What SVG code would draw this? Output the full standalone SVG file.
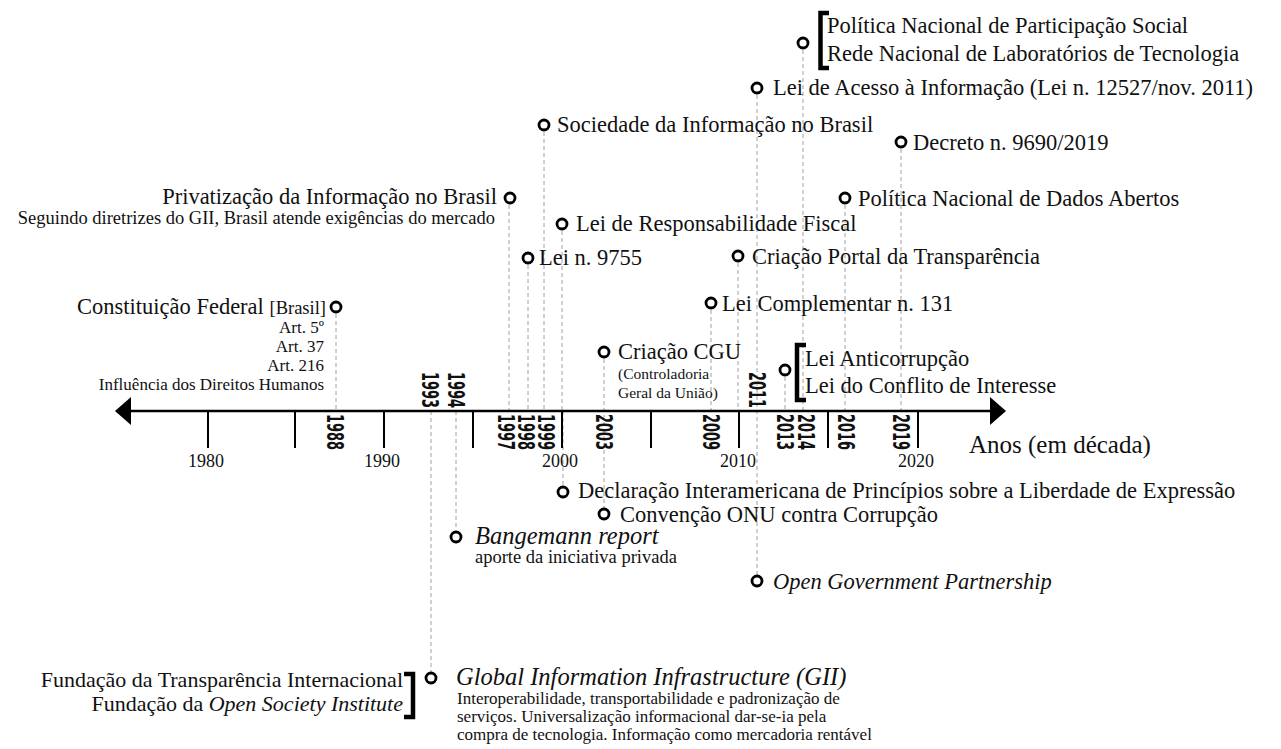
<svg xmlns="http://www.w3.org/2000/svg" width="1281" height="749" viewBox="0 0 1281 749">
  <style>
    .t { font-family: "Liberation Serif", "Times New Roman", serif; font-size: 22.5px; fill: #111; }
    .it { font-style: italic; }
    .m { font-size: 18.5px; }
    .s { font-size: 17px; }
    .xs { font-size: 15.5px; }
    .r { text-anchor: end; }
    .c { text-anchor: middle; }
    .yr { font-family: "Liberation Sans Narrow", "DejaVu Sans Condensed", "Liberation Sans", sans-serif; font-weight: bold; font-size: 23px; font-stretch: condensed; fill: #111; }
    .dot { fill: #fff; stroke: #000; stroke-width: 2.8; }
    .br { fill: none; stroke: #000; stroke-width: 4.5; }
    .lead { stroke: #a0a0a0; stroke-width: 1; stroke-dasharray: 4 3; fill: none; }
    .axis { stroke: #000; stroke-width: 2.5; fill: none; }
    .tick { stroke: #000; stroke-width: 2; }
  </style>

  <!-- dashed leaders from each event to the axis -->
  <g id="connectors">
    <line class="lead" x1="336" y1="307" x2="336" y2="411"/>
    <line class="lead" x1="431" y1="411" x2="431" y2="678"/>
    <line class="lead" x1="456" y1="411" x2="456" y2="537"/>
    <line class="lead" x1="509" y1="198" x2="509" y2="411"/>
    <line class="lead" x1="528" y1="258" x2="528" y2="411"/>
    <line class="lead" x1="544" y1="125" x2="544" y2="411"/>
    <line class="lead" x1="562" y1="224" x2="562" y2="411"/>
    <line class="lead" x1="563" y1="411" x2="563" y2="492"/>
    <line class="lead" x1="604" y1="352" x2="604" y2="514"/>
    <line class="lead" x1="711" y1="303" x2="711" y2="411"/>
    <line class="lead" x1="738" y1="256" x2="738" y2="411"/>
    <line class="lead" x1="757" y1="88" x2="757" y2="581"/>
    <line class="lead" x1="785" y1="370" x2="785" y2="411"/>
    <line class="lead" x1="803" y1="43" x2="803" y2="411"/>
    <line class="lead" x1="845" y1="198" x2="845" y2="411"/>
    <line class="lead" x1="901" y1="142" x2="901" y2="411"/>
  </g>

  <!-- time axis -->
  <g id="axis">
    <line class="axis" x1="128" y1="411" x2="992" y2="411"/>
    <polygon points="115,411 131,397 131,425" fill="#000"/>
    <polygon points="1006,411 990,397 990,425" fill="#000"/>
    <g class="tick">
      <line x1="208" y1="411" x2="208" y2="448"/>
      <line x1="295" y1="411" x2="295" y2="448"/>
      <line x1="384" y1="411" x2="384" y2="448"/>
      <line x1="473" y1="411" x2="473" y2="448"/>
      <line x1="562" y1="411" x2="562" y2="448"/>
      <line x1="651" y1="411" x2="651" y2="448"/>
      <line x1="739" y1="411" x2="739" y2="448"/>
      <line x1="828" y1="411" x2="828" y2="448"/>
      <line x1="918" y1="411" x2="918" y2="448"/>
    </g>
    <g class="t c" style="font-size:18px">
      <text x="206" y="467">1980</text>
      <text x="382" y="467">1990</text>
      <text x="560" y="467">2000</text>
      <text x="738" y="467">2010</text>
      <text x="916" y="467">2020</text>
    </g>
    <text class="t" x="969" y="453" style="font-size:25px">Anos (em década)</text>

    <!-- event years, rotated -->
    <g>
      <text class="yr" transform="translate(335,414) rotate(90)" y="8" textLength="36" lengthAdjust="spacingAndGlyphs">1988</text>
      <text class="yr" transform="translate(430,372) rotate(90)" y="8" textLength="36" lengthAdjust="spacingAndGlyphs">1993</text>
      <text class="yr" transform="translate(456,372) rotate(90)" y="8" textLength="36" lengthAdjust="spacingAndGlyphs">1994</text>
      <text class="yr" transform="translate(506,414) rotate(90)" y="8" textLength="36" lengthAdjust="spacingAndGlyphs">1997</text>
      <text class="yr" transform="translate(526,414) rotate(90)" y="8" textLength="36" lengthAdjust="spacingAndGlyphs">1998</text>
      <text class="yr" transform="translate(546,414) rotate(90)" y="8" textLength="36" lengthAdjust="spacingAndGlyphs">1999</text>
      <text class="yr" transform="translate(604,414) rotate(90)" y="8" textLength="36" lengthAdjust="spacingAndGlyphs">2003</text>
      <text class="yr" transform="translate(711,414) rotate(90)" y="8" textLength="36" lengthAdjust="spacingAndGlyphs">2009</text>
      <text class="yr" transform="translate(757,372) rotate(90)" y="8" textLength="36" lengthAdjust="spacingAndGlyphs">2011</text>
      <text class="yr" transform="translate(785,414) rotate(90)" y="8" textLength="36" lengthAdjust="spacingAndGlyphs">2013</text>
      <text class="yr" transform="translate(806,414) rotate(90)" y="8" textLength="36" lengthAdjust="spacingAndGlyphs">2014</text>
      <text class="yr" transform="translate(846,414) rotate(90)" y="8" textLength="36" lengthAdjust="spacingAndGlyphs">2016</text>
      <text class="yr" transform="translate(901,414) rotate(90)" y="8" textLength="36" lengthAdjust="spacingAndGlyphs">2019</text>
    </g>
  </g>

  <g id="ev-1988">
    <circle class="dot" cx="336" cy="307" r="5"/>
    <text class="t r" x="326" y="314">Constituição Federal <tspan class="m">[Brasil]</tspan></text>
    <text class="t s r" x="324" y="333">Art. 5º</text>
    <text class="t s r" x="324" y="352">Art. 37</text>
    <text class="t s r" x="324" y="371">Art. 216</text>
    <text class="t s r" x="324" y="390">Influência dos Direitos Humanos</text>
  </g>

  <g id="ev-1993">
    <circle class="dot" cx="431" cy="678" r="5"/>
    <path class="br" d="M404,674 H413 V717 H404"/>
    <text class="t r" x="403" y="687" style="font-size:22px">Fundação da Transparência Internacional</text>
    <text class="t r" x="403" y="711" style="font-size:22px">Fundação da <tspan class="it">Open Society Institute</tspan></text>
    <text class="t it" x="456" y="685" style="font-size:24.5px">Global Information Infrastructure (GII)</text>
    <text class="t" x="457" y="704" style="font-size:17px">Interoperabilidade, transportabilidade e padronização de</text>
    <text class="t" x="457" y="722" style="font-size:17px">serviços. Universalização informacional dar-se-ia pela</text>
    <text class="t" x="457" y="740" style="font-size:17px">compra de tecnologia. Informação como mercadoria rentável</text>
  </g>

  <g id="ev-1994">
    <circle class="dot" cx="456" cy="537" r="5"/>
    <text class="t it" x="475" y="544" style="font-size:24.5px">Bangemann report</text>
    <text class="t m" x="475" y="563">aporte da iniciativa privada</text>
  </g>

  <g id="ev-1997">
    <circle class="dot" cx="510" cy="198" r="5"/>
    <text class="t r" x="497" y="204">Privatização da Informação no Brasil</text>
    <text class="t m r" x="495" y="224">Seguindo diretrizes do GII, Brasil atende exigências do mercado</text>
  </g>

  <g id="ev-1998">
    <circle class="dot" cx="528" cy="258" r="5"/>
    <text class="t" x="539" y="265">Lei n. 9755</text>
  </g>

  <g id="ev-1999">
    <circle class="dot" cx="544" cy="125" r="5"/>
    <text class="t" x="557" y="132">Sociedade da Informação no Brasil</text>
  </g>

  <g id="ev-2000-lrf">
    <circle class="dot" cx="562" cy="224" r="5"/>
    <text class="t" x="576" y="231">Lei de Responsabilidade Fiscal</text>
  </g>

  <g id="ev-2000-decl">
    <circle class="dot" cx="563" cy="492" r="5"/>
    <text class="t" x="578" y="498">Declaração Interamericana de Princípios sobre a Liberdade de Expressão</text>
  </g>

  <g id="ev-2003-cgu">
    <circle class="dot" cx="604" cy="352" r="5"/>
    <text class="t" x="618" y="359">Criação CGU</text>
    <text class="t xs" x="618" y="379">(Controladoria</text>
    <text class="t xs" x="618" y="398">Geral da União)</text>
  </g>

  <g id="ev-2003-onu">
    <circle class="dot" cx="604" cy="514" r="5"/>
    <text class="t" x="620" y="522">Convenção ONU contra Corrupção</text>
  </g>

  <g id="ev-2009">
    <circle class="dot" cx="711" cy="303" r="5"/>
    <text class="t" x="722" y="311">Lei Complementar n. 131</text>
  </g>

  <g id="ev-2010">
    <circle class="dot" cx="738" cy="256" r="5"/>
    <text class="t" x="752" y="264">Criação Portal da Transparência</text>
  </g>

  <g id="ev-2011-lai">
    <circle class="dot" cx="757" cy="88" r="5"/>
    <text class="t" x="773" y="95">Lei de Acesso à Informação (Lei n. 12527/nov. 2011)</text>
  </g>

  <g id="ev-2011-ogp">
    <circle class="dot" cx="757" cy="581" r="5"/>
    <text class="t it" x="773" y="589">Open Government Partnership</text>
  </g>

  <g id="ev-2013">
    <circle class="dot" cx="785" cy="370" r="5"/>
    <path class="br" d="M806,345 H797 V400 H806"/>
    <text class="t" x="805" y="366">Lei Anticorrupção</text>
    <text class="t" x="805" y="393">Lei do Conflito de Interesse</text>
  </g>

  <g id="ev-2014">
    <circle class="dot" cx="803" cy="43" r="5"/>
    <path class="br" d="M829,13 H820.5 V68 H829"/>
    <text class="t" x="827" y="33">Política Nacional de Participação Social</text>
    <text class="t" x="827" y="61">Rede Nacional de Laboratórios de Tecnologia</text>
  </g>

  <g id="ev-2016">
    <circle class="dot" cx="845" cy="198" r="5"/>
    <text class="t" x="858" y="206">Política Nacional de Dados Abertos</text>
  </g>

  <g id="ev-2019">
    <circle class="dot" cx="901" cy="142" r="5"/>
    <text class="t" x="913" y="150">Decreto n. 9690/2019</text>
  </g>
</svg>
